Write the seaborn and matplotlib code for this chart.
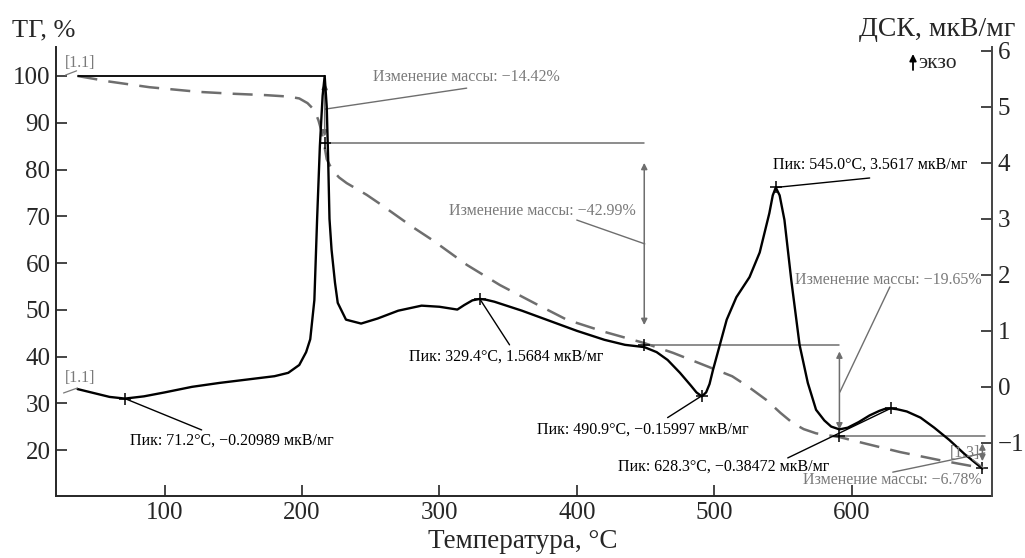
import numpy as np
import pandas as pd
import matplotlib
matplotlib.use('Agg')
import matplotlib.pyplot as plt
import seaborn as sns

# TG curve (left axis, %)
tg_temp = [36.7, 60, 89, 125, 150, 174, 190, 198, 204, 209, 212, 214, 216, 218,
           222, 227, 232.5, 247, 257, 280, 295, 320, 344, 370, 392.6, 420, 449,
           470, 489, 513, 525, 538, 548, 557, 565, 574, 591, 610, 635, 665, 691, 695]
tg_mass = [100, 98.8, 97.6, 96.6, 96.2, 95.9, 95.6, 95.2, 94.2, 92.7, 90.5, 88.4, 85.6, 82.2,
           79.9, 78.3, 77.1, 74.6, 72.6, 67.8, 64.9, 59.6, 55.3, 51.3, 47.9, 45.3, 42.9,
           40.8, 38.6, 35.8, 33.5, 30.7, 28.0, 25.8, 24.5, 23.6, 22.8, 21.4, 19.6, 17.8, 16.4, 16.2]

# DSC curve (right axis, mkV/mg)
dsc_temp = [36.7, 50, 60, 71.2, 85, 100, 120, 140, 160, 180, 190, 198, 203, 206, 209,
            211, 213, 215, 216.5, 218, 219, 220, 221.5, 224, 226, 232, 243, 255, 270,
            287, 300, 313, 318, 324, 329.4, 334, 340, 360, 380, 400, 420, 435, 449, 458,
            466, 475, 483, 487, 490.9, 494, 496.5, 499, 504, 509, 516, 525.6, 533, 540,
            542.5, 544.7, 547.5, 551, 556, 562, 568, 574, 580, 585, 591, 597, 605, 613,
            620, 624, 628.3, 633, 640, 650, 660, 671, 682, 695]
dsc_val = [-0.04, -0.12, -0.18, -0.21, -0.17, -0.10, 0.00, 0.07, 0.13, 0.19, 0.25, 0.39, 0.62, 0.85, 1.55,
           3.0, 4.3, 5.2, 5.55, 5.0, 4.1, 3.0, 2.45, 1.86, 1.5, 1.2, 1.13, 1.22, 1.36,
           1.45, 1.43, 1.38, 1.46, 1.545, 1.57, 1.555, 1.52, 1.36, 1.18, 1.00, 0.84, 0.75, 0.71, 0.62,
           0.48, 0.25, 0.02, -0.10, -0.17, -0.10, 0.05, 0.30, 0.75, 1.2, 1.6, 1.96, 2.4, 3.1,
           3.42, 3.56, 3.42, 2.98, 1.9, 0.75, 0.07, -0.41, -0.60, -0.71, -0.76, -0.73, -0.63, -0.51,
           -0.43, -0.395, -0.385, -0.40, -0.44, -0.55, -0.73, -0.95, -1.2, -1.46]

# mass loss steps
step_temp = [216.5, 449, 591, 695]
step_levels = [100, 85.58, 42.59, 22.94, 16.16]
step_labels = ['Изменение массы: −14.42%', 'Изменение массы: −42.99%',
               'Изменение массы: −19.65%', 'Изменение массы: −6.78%']

# DSC peaks
peak_temp = [71.2, 329.4, 490.9, 545.0, 628.3]
peak_val = [-0.20989, 1.5684, -0.15997, 3.5617, -0.38472]
peak_labels = ['Пик: 71.2°С, −0.20989 мкВ/мг', 'Пик: 329.4°С, 1.5684 мкВ/мг',
               'Пик: 490.9°С, −0.15997 мкВ/мг', 'Пик: 545.0°С, 3.5617 мкВ/мг',
               'Пик: 628.3°С, −0.38472 мкВ/мг']

sns.set_style("ticks")
plt.rcParams['font.family'] = ['Liberation Serif', 'DejaVu Serif']

GRAY = '#6e6e6e'
TXT_GRAY = '#7a7a7a'

fig = plt.figure(figsize=(10.25, 5.58), dpi=100)
ax = fig.add_axes([0.0546, 0.1111, 0.9132, 0.8047])
ax2 = ax.twinx()

tg_df = pd.DataFrame({'T': tg_temp, 'TG': tg_mass})
dsc_df = pd.DataFrame({'T': dsc_temp, 'DSC': dsc_val})

sns.lineplot(data=tg_df, x='T', y='TG', ax=ax, color=GRAY, linewidth=1.8,
             linestyle=(0, (8, 4.5)))
sns.lineplot(data=dsc_df, x='T', y='DSC', ax=ax2, color='black', linewidth=1.7)

ax.set_xlim(21, 702)
ax.set_ylim(10.2, 106.2)
ax2.set_ylim(-1.95, 6.07)

ax.set_xticks([100, 200, 300, 400, 500, 600])
ax.set_yticks([20, 30, 40, 50, 60, 70, 80, 90, 100])
ax2.set_yticks([-1, 0, 1, 2, 3, 4, 5, 6])
ax2.set_yticklabels(['−1', '0', '1', '2', '3', '4', '5', '6'])

for a in (ax, ax2):
    a.set_xlabel('')
    a.set_ylabel('')
    a.spines['top'].set_visible(False)
    a.tick_params(direction='in', length=8, width=1.2, labelsize=18, pad=4)
ax.spines['right'].set_visible(False)
ax2.spines['left'].set_visible(False)
ax2.spines['bottom'].set_visible(False)
ax.spines['left'].set_linewidth(1.4)
ax.spines['bottom'].set_linewidth(1.4)
ax2.spines['right'].set_linewidth(1.4)
ax2.spines['right'].set_color('#444444')

# TG step annotations
ax.plot([tg_temp[0], step_temp[0]], [step_levels[0], step_levels[0]], color='black', lw=1.3)
starts = [212.8, 449, 591]
for i in range(1, 4):
    x0 = starts[i - 1]
    x1 = step_temp[i] if i < 3 else 697
    ax.plot([x0, x1], [step_levels[i], step_levels[i]], color=GRAY, lw=1.1)
for i, t in enumerate(step_temp):
    shrink = 14 if i == 1 else 5
    ax.annotate('', xy=(t, step_levels[i + 1]), xytext=(t, step_levels[i]),
                arrowprops=dict(arrowstyle='<|-|>', color=GRAY, lw=1.1,
                                mutation_scale=9, shrinkA=shrink, shrinkB=shrink))
    ax.plot(t, step_levels[i + 1], marker='+', color='black', ms=9, mew=1.1)

# mass change labels with leader lines
lead_start = [(216.5, 92.9), (449.4, 64.1), (591.3, 32.4), (696.7, 19.4)]
lead_end = [(319.8, 97.4), (399.9, 69.2), (627.7, 54.9), (629.8, 15.3)]
lab_pos = [(252, 99.8, 'left'), (442.8, 71.1, 'right'), (558.5, 56.4, 'left'), (694.6, 13.6, 'right')]
for (xs, ys), (xe, ye), (xt, yt, ha), lab in zip(lead_start, lead_end, lab_pos, step_labels):
    ax.plot([xs, xe], [ys, ye], color=GRAY, lw=1.0)
    ax.text(xt, yt, lab, color=TXT_GRAY, fontsize=11.5, ha=ha, va='center')

# DSC peak labels
peak_lead = [(127, -0.77), (351, 0.75), (466, -0.55), (613, 3.73), (553.4, -1.27)]
peak_text = [(74.6, -0.96), (277.6, 0.54), (370.7, -0.77), (542.5, 3.96), (429.7, -1.43)]
for t, v, (xe, ye), (xt, yt), lab in zip(peak_temp, peak_val, peak_lead, peak_text, peak_labels):
    ax2.plot([t, xe], [v, ye], color='black', lw=1.0)
    ax2.plot(t, v, marker='+', color='black', ms=9, mew=1.1)
    ax2.text(xt, yt, lab, color='black', fontsize=11.5, ha='left', va='center')

# segment labels
ax.plot([28, 36], [100.2, 101.1], color=TXT_GRAY, lw=0.9)
ax.text(27.2, 102.8, '[1.1]', color=TXT_GRAY, fontsize=11.5, ha='left', va='center')
ax2.plot([26.5, 36.7], [-0.11, -0.02], color=TXT_GRAY, lw=0.9)
ax2.text(27.2, 0.16, '[1.1]', color=TXT_GRAY, fontsize=11.5, ha='left', va='center')
ax2.plot([688, 696], [-1.3, -1.45], color=TXT_GRAY, lw=0.9)
ax2.text(671, -1.18, '[1.3]', color=TXT_GRAY, fontsize=11.5, ha='left', va='center')

# exo direction marker
ax.annotate('', xy=(913 / 1025, 1 - 54 / 558), xytext=(913 / 1025, 1 - 70 / 558),
            xycoords='figure fraction', textcoords='figure fraction',
            arrowprops=dict(arrowstyle='-|>', color='black', lw=1.3, mutation_scale=10,
                            shrinkA=0, shrinkB=0))
fig.text(918 / 1025, 1 - 63 / 558, 'экзо', fontsize=15.5, ha='left', va='center')

fig.text(12 / 1025, 1 - 30 / 558, 'ТГ, %', fontsize=19, ha='left', va='center')
fig.text(1015 / 1025, 1 - 30 / 558, 'ДСК, мкВ/мг', fontsize=20, ha='right', va='center')
fig.text(523 / 1025, 1 - 541 / 558, 'Температура, °С', fontsize=19.5, ha='center', va='center')

fig.savefig('out.png', dpi=100)
